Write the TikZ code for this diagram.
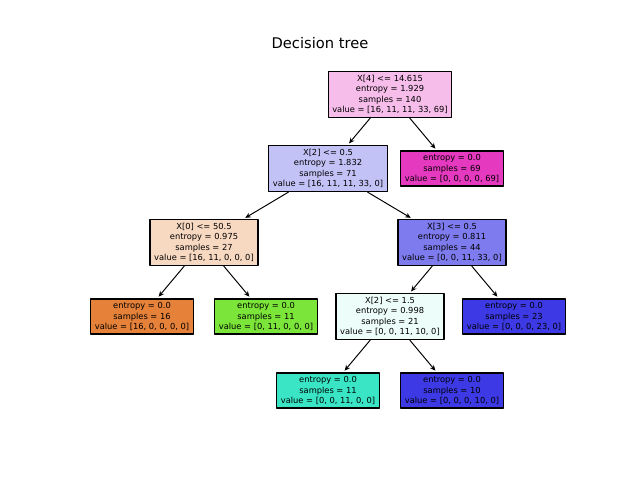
\documentclass[tikz,border=0pt]{standalone}
\usepackage{fontspec}
\usetikzlibrary{arrows.meta}
\setmainfont{DejaVu Sans}
\definecolor{rootcol}{HTML}{F6BCEA}
\definecolor{nacol}{HTML}{C3C2F7}
\definecolor{nbcol}{HTML}{E539C0}
\definecolor{nccol}{HTML}{F7D8C1}
\definecolor{ndcol}{HTML}{7D7BEE}
\definecolor{necol}{HTML}{E58139}
\definecolor{nfcol}{HTML}{7BE539}
\definecolor{ngcol}{HTML}{EDFDFA}
\definecolor{nhcol}{HTML}{3C39E5}
\definecolor{nicol}{HTML}{39E5C5}
\begin{document}
\begin{tikzpicture}[x=0.01in,y=-0.01in,line join=round,>={Stealth[length=4pt,width=3.6pt]},
	tnode/.style={draw,line width=0.9pt,align=center,inner xsep=3pt,inner ysep=2.5pt,outer sep=0.5pt,font=\fontsize{6}{7.56}\selectfont},
	tedge/.style={->,line width=0.7pt,shorten >=1.5pt}]
	\useasboundingbox (0,0) rectangle (640,480);
	\node (title) at (320,43) {\fontsize{10.6}{12}\selectfont Decision tree};
	% splits and leaves
	\node[tnode,fill=rootcol] (root) at (390,94.5) {X[4] <= 14.615\\entropy = 1.929\\samples = 140\\value = [16, 11, 11, 33, 69]};
	\node[tnode,fill=nacol] (na) at (328,168.5) {X[2] <= 0.5\\entropy = 1.832\\samples = 71\\value = [16, 11, 11, 33, 0]};
	\node[tnode,fill=nbcol] (nb) at (452,168.5) {entropy = 0.0\\samples = 69\\value = [0, 0, 0, 0, 69]};
	\node[tnode,fill=nccol] (nc) at (204,242.5) {X[0] <= 50.5\\entropy = 0.975\\samples = 27\\value = [16, 11, 0, 0, 0]};
	\node[tnode,fill=ndcol] (nd) at (452,242.5) {X[3] <= 0.5\\entropy = 0.811\\samples = 44\\value = [0, 0, 11, 33, 0]};
	\node[tnode,fill=necol] (ne) at (142,316.5) {entropy = 0.0\\samples = 16\\value = [16, 0, 0, 0, 0]};
	\node[tnode,fill=nfcol] (nf) at (266,316.5) {entropy = 0.0\\samples = 11\\value = [0, 11, 0, 0, 0]};
	\node[tnode,fill=ngcol] (ng) at (390,316.5) {X[2] <= 1.5\\entropy = 0.998\\samples = 21\\value = [0, 0, 11, 10, 0]};
	\node[tnode,fill=nhcol] (nh) at (514,316.5) {entropy = 0.0\\samples = 23\\value = [0, 0, 0, 23, 0]};
	\node[tnode,fill=nicol] (ni) at (328,390.5) {entropy = 0.0\\samples = 11\\value = [0, 0, 11, 0, 0]};
	\node[tnode,fill=nhcol] (nj) at (452,390.5) {entropy = 0.0\\samples = 10\\value = [0, 0, 0, 10, 0]};
	% edges
	\draw[tedge] (root)--(na); \draw[tedge] (root)--(nb);
	\draw[tedge] (na)--(nc); \draw[tedge] (na)--(nd);
	\draw[tedge] (nc)--(ne); \draw[tedge] (nc)--(nf);
	\draw[tedge] (nd)--(ng); \draw[tedge] (nd)--(nh);
	\draw[tedge] (ng)--(ni); \draw[tedge] (ng)--(nj);
\end{tikzpicture}
\end{document}
